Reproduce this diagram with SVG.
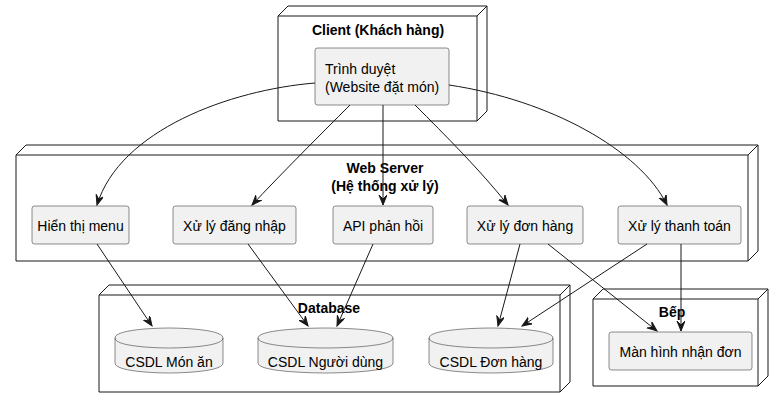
<svg xmlns="http://www.w3.org/2000/svg" width="783" height="407" viewBox="0 0 783 407">
<style>
.node{fill:#FFFFFF;stroke:#181818;stroke-width:1}
.box{fill:#F1F1F1;stroke:#181818;stroke-width:0.5}
.t{font-family:"Liberation Sans",Arial,sans-serif;font-size:14px;fill:#000}
.b{font-weight:bold;text-anchor:middle}
.c{text-anchor:middle}
.edge{fill:none;stroke:#181818;stroke-width:1}
</style>
<defs>
<marker id="arr" markerUnits="userSpaceOnUse" markerWidth="12" markerHeight="10" refX="10" refY="4" orient="auto">
<path d="M0,0 L10,4 L0,8 L4,4 Z" fill="#181818" stroke="#181818" stroke-width="1"/>
</marker>
</defs>
<rect width="783" height="407" fill="#FFFFFF"/>

<g id="client">
<path class="node" d="M278,16 L288,6 L487,6 L487,111 L477,121 L278,121 Z"/>
<path class="edge" d="M278,16 L477,16 L477,121 M477,16 L487,6"/>
<text class="t b" x="378" y="35">Client (Khách hàng)</text>
</g>
<g id="browser">
<rect class="box" x="315" y="48" width="134" height="57" rx="2.5"/>
<text class="t" x="325" y="74">Trình duyệt</text>
<text class="t" x="325" y="92">(Website đặt món)</text>
</g>

<g id="webserver">
<path class="node" d="M16,155 L26,145 L758,145 L758,251 L748,261 L16,261 Z"/>
<path class="edge" d="M16,155 L748,155 L748,261 M748,155 L758,145"/>
<text class="t b" x="385" y="173">Web Server</text>
<text class="t b" x="385" y="191">(Hệ thống xử lý)</text>
</g>
<g id="menu">
<rect class="box" x="32" y="206" width="97" height="38" rx="2.5"/>
<text class="t c" x="80.5" y="231">Hiển thị menu</text>
</g>
<g id="login">
<rect class="box" x="173" y="206" width="123" height="38" rx="2.5"/>
<text class="t c" x="234.5" y="231">Xử lý đăng nhập</text>
</g>
<g id="api">
<rect class="box" x="333" y="206" width="100" height="38" rx="2.5"/>
<text class="t c" x="383" y="231">API phản hồi</text>
</g>
<g id="order">
<rect class="box" x="467" y="206" width="116" height="38" rx="2.5"/>
<text class="t c" x="525" y="231">Xử lý đơn hàng</text>
</g>
<g id="payment">
<rect class="box" x="618" y="206" width="123" height="38" rx="2.5"/>
<text class="t c" x="679.5" y="231">Xử lý thanh toán</text>
</g>

<g id="database">
<path class="node" d="M99,295 L109,285 L570,285 L570,382 L560,392 L99,392 Z"/>
<path class="edge" d="M99,295 L560,295 L560,392 M560,295 L570,285"/>
<text class="t b" x="329" y="313">Database</text>
</g>
<g id="db_food">
<path class="box" d="M115,338 C115,328 169,328 169,328 C169,328 223,328 223,338 L223,363 C223,373 169,373 169,373 C169,373 115,373 115,363 Z"/>
<path class="box" d="M115,338 C115,348 169,348 169,348 C169,348 223,348 223,338" style="fill:none"/>
<text class="t c" x="169" y="367">CSDL Món ăn</text>
</g>
<g id="db_user">
<path class="box" d="M258,338 C258,328 325.5,328 325.5,328 C325.5,328 393,328 393,338 L393,363 C393,373 325.5,373 325.5,373 C325.5,373 258,373 258,363 Z"/>
<path class="box" d="M258,338 C258,348 325.5,348 325.5,348 C325.5,348 393,348 393,338" style="fill:none"/>
<text class="t c" x="325.5" y="367">CSDL Người dùng</text>
</g>
<g id="db_order">
<path class="box" d="M429,338 C429,328 491,328 491,328 C491,328 553,328 553,338 L553,363 C553,373 491,373 491,373 C491,373 429,373 429,363 Z"/>
<path class="box" d="M429,338 C429,348 491,348 491,348 C491,348 553,348 553,338" style="fill:none"/>
<text class="t c" x="491" y="367">CSDL Đơn hàng</text>
</g>

<g id="kitchen">
<path class="node" d="M593,299 L603,289 L768,289 L768,376 L758,386 L593,386 Z"/>
<path class="edge" d="M593,299 L758,299 L758,386 M758,299 L768,289"/>
<text class="t b" x="672" y="317">Bếp</text>
</g>
<g id="screen">
<rect class="box" x="609" y="332" width="143" height="38" rx="2.5"/>
<text class="t c" x="680.5" y="357">Màn hình nhận đơn</text>
</g>

<g id="connectors">
<path class="edge" marker-end="url(#arr)" d="M315,83 C230,90 120,130 97,205"/>
<path class="edge" marker-end="url(#arr)" d="M350,105 C320,135 280,175 252,205"/>
<path class="edge" marker-end="url(#arr)" d="M383,105 L383,205"/>
<path class="edge" marker-end="url(#arr)" d="M415,105 C445,135 480,170 508,205"/>
<path class="edge" marker-end="url(#arr)" d="M449,85 C550,100 640,150 667,205"/>
<path class="edge" marker-end="url(#arr)" d="M97,244 L152,326"/>
<path class="edge" marker-end="url(#arr)" d="M248,244 L308,326"/>
<path class="edge" marker-end="url(#arr)" d="M373,244 L337,326"/>
<path class="edge" marker-end="url(#arr)" d="M520,244 L498,326"/>
<path class="edge" marker-end="url(#arr)" d="M647,244 L522,326"/>
<path class="edge" marker-end="url(#arr)" d="M548,244 L657,331"/>
<path class="edge" marker-end="url(#arr)" d="M681,244 L681,331"/>
</g>
</svg>
